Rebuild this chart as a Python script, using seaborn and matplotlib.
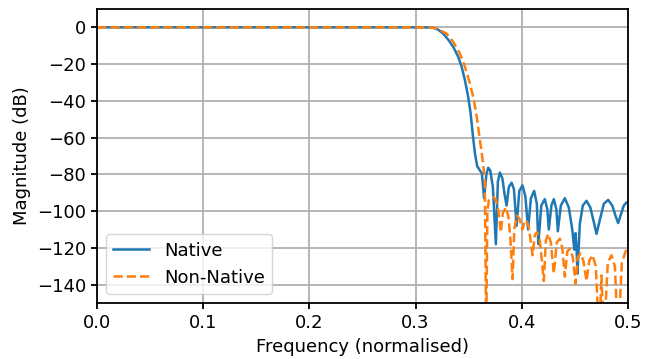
import matplotlib
matplotlib.use("Agg")
import matplotlib.pyplot as plt
import seaborn as sns

# values (frequency, magnitude in dB)
native_freq = [0.0, 0.1, 0.2, 0.3, 0.31, 0.3167, 0.3214, 0.3261, 0.3308, 0.3355,
               0.3402, 0.3434, 0.3465, 0.3496, 0.3519, 0.3538, 0.3559, 0.3581,
               0.3606, 0.3625, 0.3646, 0.3668, 0.3685, 0.3705, 0.3729, 0.3757,
               0.3776, 0.3795, 0.3818, 0.3837, 0.3858, 0.3879, 0.3905, 0.3927,
               0.3952, 0.3978, 0.4008, 0.4035, 0.4061, 0.4087, 0.4118, 0.4143,
               0.4157, 0.4185, 0.4218, 0.4242, 0.4256, 0.4280, 0.4303, 0.4327,
               0.4341, 0.4369, 0.4407, 0.4444, 0.4477, 0.4496, 0.4508, 0.4517,
               0.4526, 0.4548, 0.4576, 0.4611, 0.4647, 0.4680, 0.4705, 0.4736,
               0.4774, 0.4815, 0.4854, 0.4887, 0.4909, 0.4934, 0.4962, 0.4988, 0.5]
native_db = [0, 0, 0, 0, -0.05, -0.2, -1.3, -3.4, -6.7, -10.6,
             -16, -21.4, -28.6, -37.7, -46.7, -57.5, -68.3, -75.5,
             -77.8, -79.3, -93, -80, -76.4, -78, -87, -118,
             -84, -79, -82, -90, -97, -87, -84.5, -88,
             -108, -89, -86, -92, -110, -93, -89, -96,
             -118, -97, -93.5, -99, -110, -97, -93.5, -99,
             -111, -97, -93, -98, -110, -121, -112, -120,
             -134, -107, -97, -94.4, -98, -106, -112.4, -105,
             -96, -93.9, -97, -103, -106.5, -102, -97, -95.3, -95]

nonnative_freq = [0.0, 0.1, 0.2, 0.3, 0.31, 0.3167, 0.3214, 0.3293, 0.3355, 0.3418,
                  0.3465, 0.3512, 0.3550, 0.3581, 0.3606, 0.3632, 0.3653, 0.3666,
                  0.3677, 0.3691, 0.3729, 0.3757, 0.3781, 0.3804, 0.3823, 0.3851,
                  0.3875, 0.3894, 0.3914, 0.3931, 0.3952, 0.3978, 0.4008, 0.4025,
                  0.4046, 0.4068, 0.4103, 0.4124, 0.4146, 0.4171, 0.4209, 0.4228,
                  0.4250, 0.4275, 0.4303, 0.4331, 0.4360, 0.4383, 0.4407, 0.4430,
                  0.4454, 0.4482, 0.4508, 0.4529, 0.4555, 0.4581, 0.4611, 0.4637,
                  0.4668, 0.4699, 0.4730, 0.4752, 0.4774, 0.4812, 0.4846, 0.4878,
                  0.4909, 0.4944, 0.4988, 0.5]
nonnative_db = [0, 0, 0, 0, -0.05, -0.2, -1.0, -3.4, -7.9, -14.2,
                -21.4, -30.4, -39.5, -50.3, -61, -71.9, -82.7, -170,
                -100, -94, -92.4, -93.5, -100, -111.5, -101, -98,
                -103, -115, -137, -110, -102.5, -104, -110, -106,
                -105, -109, -124, -113, -111.5, -116, -138, -116,
                -112.4, -117, -134, -117, -115, -120, -135.7, -122,
                -120.5, -125, -139.5, -125, -123, -127, -138, -127,
                -124, -130, -170, -135, -170, -128, -124, -130,
                -170, -128, -120.5, -120]

plt.rcParams["font.size"] = 13
fig, ax = plt.subplots(figsize=(6.56, 3.59), dpi=100)
fig.subplots_adjust(left=0.148, right=0.957, top=0.975, bottom=0.156)

sns.lineplot(x=native_freq, y=native_db, ax=ax, color="#1f77b4",
             linewidth=1.8, label="Native")
sns.lineplot(x=nonnative_freq, y=nonnative_db, ax=ax, color="#ff7f0e",
             linewidth=1.8, linestyle="--", label="Non-Native")

ax.set_xlim(0, 0.5)
ax.set_ylim(-150, 10)
ax.set_yticks([0, -20, -40, -60, -80, -100, -120, -140])
ax.set_xticks([0.0, 0.1, 0.2, 0.3, 0.4, 0.5])
ax.grid(True, color="#b0b0b0", linewidth=1.3)
ax.set_axisbelow(True)
for s in ax.spines.values():
    s.set_linewidth(1.3)
ax.tick_params(width=1.3, length=4.5)
ax.set_xlabel("Frequency (normalised)")
ax.set_ylabel("Magnitude (dB)")
ax.legend(loc="lower left")

plt.savefig("out.png", dpi=100)
